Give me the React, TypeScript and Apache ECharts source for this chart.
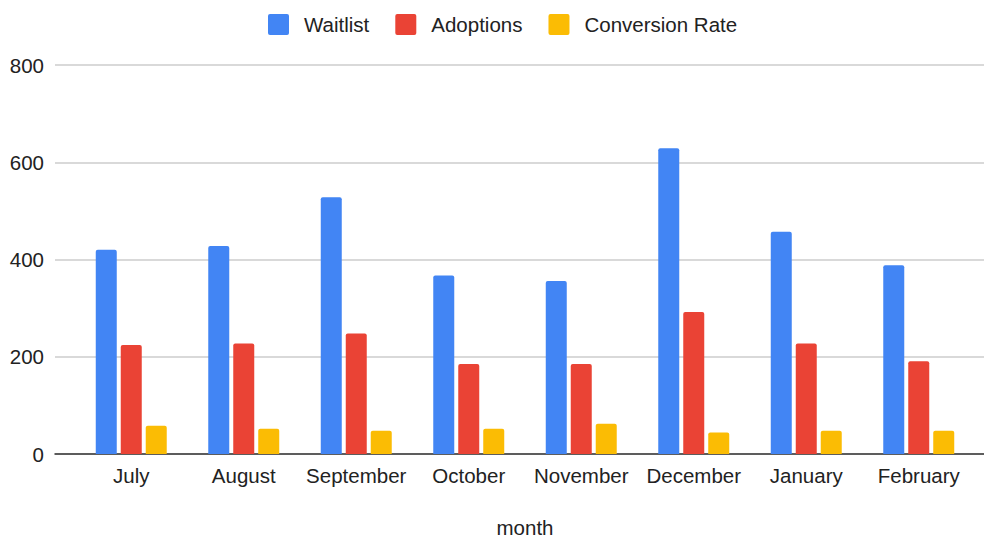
import React, { useEffect, useRef } from "react";
import * as echarts from "echarts";

const months = ["July", "August", "September", "October", "November", "December", "January", "February"];
const waitlist = [420, 428, 528, 367, 356, 629, 457, 388];
const adoptions = [224, 227, 248, 185, 185, 292, 227, 191];
const conversionRate = [58, 52, 48, 52, 62, 44, 48, 48];
const yTicks = { min: 0, max: 800, interval: 200 };

const FONT = "Arial, 'Liberation Sans', sans-serif";
const FS = 20.5;
const ICON = "path://M2,0 H19 Q21,0 21,2 V19 Q21,21 19,21 H2 Q0,21 0,19 V2 Q0,0 2,0 Z";

export default function App() {
  const ref = useRef<HTMLDivElement>(null);
  useEffect(() => {
    if (!ref.current) return;
    const chart = echarts.init(ref.current, undefined, { renderer: "svg" });
    const bar = (name: string, data: number[], color: string) => ({
      name,
      type: "bar",
      xAxisIndex: 0,
      yAxisIndex: 0,
      data,
      barWidth: 21,
      barGap: "19%",
      itemStyle: { color, borderRadius: [2, 2, 0, 0] },
    });
    chart.setOption({
      animation: false,
      backgroundColor: "#ffffff",
      textStyle: { fontFamily: FONT },
      legend: {
        top: 9,
        left: 263,
        itemWidth: 21,
        itemHeight: 21,
        itemGap: 26,
        icon: ICON,
        textStyle: { fontSize: FS, color: "#222222", fontFamily: FONT, padding: [0, 0, 0, 10] },
        data: ["Waitlist", "Adoptions", "Conversion Rate"],
      },
      grid: [
        { left: 75, right: 9, top: 65, bottom: 86, outerBoundsMode: "none", containLabel: false },
        { left: 55, right: 0, top: 65, bottom: 86, outerBoundsMode: "none", containLabel: false },
      ],
      xAxis: [
        {
          type: "category",
          gridIndex: 0,
          data: months,
          axisLine: { show: false },
          axisTick: { show: false },
          axisLabel: { fontSize: FS, color: "#222222", fontFamily: FONT, margin: 11, interval: 0 },
          name: "month",
          nameLocation: "middle",
          nameGap: 63,
          nameTextStyle: { fontSize: FS, color: "#222222", fontFamily: FONT },
        },
        {
          type: "value",
          gridIndex: 1,
          min: 0,
          max: 1,
          axisLine: { show: true, lineStyle: { color: "#333333", width: 1.5 } },
          axisTick: { show: false },
          axisLabel: { show: false },
          splitLine: { show: false },
        },
      ],
      yAxis: [
        {
          type: "value",
          gridIndex: 0,
          min: yTicks.min,
          max: yTicks.max,
          interval: yTicks.interval,
          show: false,
          splitLine: { show: false },
        },
        {
          type: "value",
          gridIndex: 1,
          min: yTicks.min,
          max: yTicks.max,
          interval: yTicks.interval,
          axisLine: { show: false },
          axisTick: { show: false },
          axisLabel: { fontSize: FS, color: "#222222", fontFamily: FONT, margin: 11 },
          splitLine: { show: true, lineStyle: { color: "#cccccc", width: 1.5 } },
        },
      ],
      series: [
        bar("Waitlist", waitlist, "#4285F4"),
        bar("Adoptions", adoptions, "#EA4335"),
        bar("Conversion Rate", conversionRate, "#FBBC04"),
      ],
    });
    return () => chart.dispose();
  }, []);
  return <div ref={ref} style={{ width: 984, height: 540, position: "fixed", left: 0, top: 0 }} />;
}
